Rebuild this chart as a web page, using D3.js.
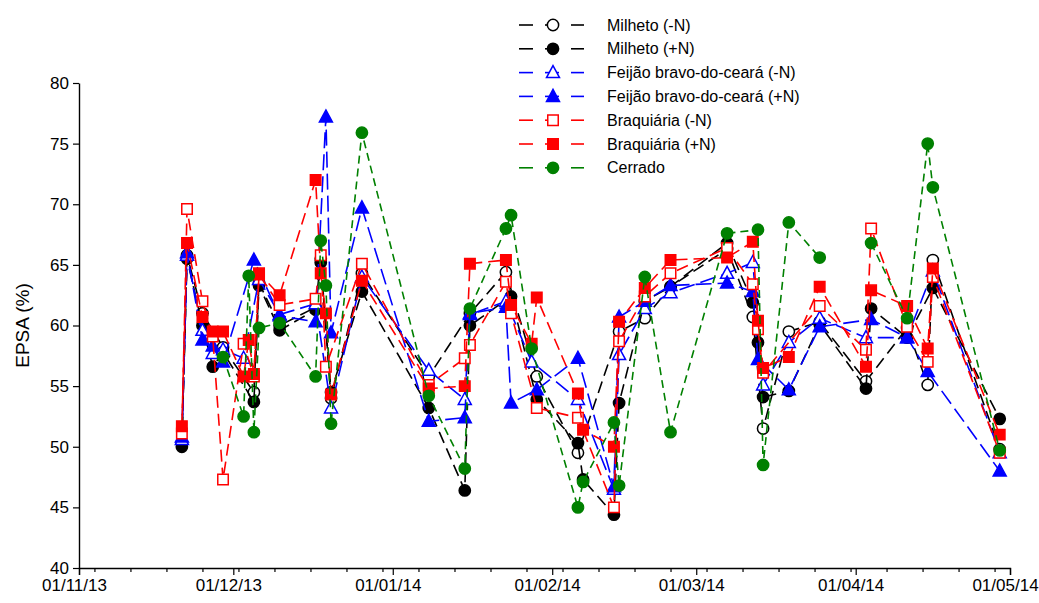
<!DOCTYPE html>
<html>
<head>
<meta charset="utf-8">
<script src="https://cdn.jsdelivr.net/npm/d3@7"></script>
<style>
  body { margin: 0; background: #fff; }
  text { font-family: Arial, "Liberation Sans", sans-serif; }
</style>
</head>
<body>
<svg id="chart"></svg>
<script>
// sampling dates
const dates = [
  "2013-11-21", "2013-11-22", "2013-11-25", "2013-11-27", "2013-11-29",
  "2013-12-03", "2013-12-04", "2013-12-05", "2013-12-06", "2013-12-10",
  "2013-12-17", "2013-12-18", "2013-12-19", "2013-12-20", "2013-12-26",
  "2014-01-08", "2014-01-15", "2014-01-16", "2014-01-23", "2014-01-24",
  "2014-01-28", "2014-01-29", "2014-02-06", "2014-02-07", "2014-02-13",
  "2014-02-14", "2014-02-19", "2014-02-24", "2014-03-07", "2014-03-12",
  "2014-03-13", "2014-03-14", "2014-03-19", "2014-03-25", "2014-04-03",
  "2014-04-04", "2014-04-11", "2014-04-15", "2014-04-16", "2014-04-29"
];

// EPSA (%) per treatment, null = not measured that day
const milhetoMenosN = [50.3, 65.8, 61.0, null, 58.2, null, null, 54.5, 63.5, 60.0,
  61.5, 65.5, null, 54.0, 64.3, 55.8, null, 61.0, 64.4, null,
  null, 55.8, 49.5, null, null, 59.5, 60.6, 63.2, 66.3, 60.7,
  null, 51.5, 59.5, 60.3, 55.4, null, 59.8, 55.1, 65.4, 49.8];
const milhetoMaisN = [50.0, 65.5, 60.0, 56.6, 57.8, null, null, 53.7, 63.3, 59.6,
  61.3, 65.2, null, 54.5, 62.8, 53.2, 46.4, 60.0, null, 62.4,
  null, 53.9, 50.3, 47.3, 44.4, 53.6, 62.0, 63.2, 66.8, 61.9,
  58.6, 54.1, 54.6, 60.1, 54.8, 61.4, 59.0, null, 63.1, 52.3];
const feijaoMenosN = [50.6, 65.8, 59.6, 57.7, 58.0, 57.3, null, null, 63.8, 60.9,
  61.8, null, null, 53.2, 64.0, 56.3, 53.9, 60.9, 62.0, null,
  57.0, null, 53.9, null, 46.5, 57.6, 61.4, 62.7, 64.3, 65.2,
  null, 55.1, 58.6, 60.6, 59.0, null, 59.0, null, 64.5, 49.5];
const feijaoMaisN = [50.8, 66.0, 58.8, 58.3, 57.0, null, null, 65.4, null, 60.8,
  60.3, null, 77.2, 59.4, 69.7, 52.1, 52.4, 61.0, 61.5, 53.6,
  null, 54.7, 57.3, null, 46.7, 60.7, 62.0, 63.3, 63.5, 62.8,
  57.2, null, 54.7, 59.9, null, 60.5, 59.0, 56.2, null, 48.0];
const braqMenosN = [51.1, 69.6, 62.0, 59.1, 47.3, 58.5, null, 55.8, 64.2, 61.7,
  62.2, 65.8, 56.6, null, 65.1, 55.1, 57.3, 58.4, 63.6, 61.0,
  null, 53.2, 52.4, null, 45.0, 58.7, 62.4, 64.3, 66.4, 63.4,
  59.7, 56.1, null, 61.6, 58.0, 68.0, 59.9, 57.0, 64.0, 49.5];
const braqMaisN = [51.7, 66.8, 60.7, 59.5, 59.5, 55.8, 58.8, 56.0, 64.3, 62.5,
  72.0, 64.3, 61.0, 54.3, 63.7, 54.8, 55.0, 65.1, 65.4, 61.7,
  58.5, 62.3, 54.4, 51.4, 50.0, 60.3, 63.1, 65.4, 65.6, 66.9,
  60.4, 56.5, 57.4, 63.2, 56.6, 62.9, 61.6, 58.1, 64.7, 51.0];
const cerrado = [null, null, null, null, 57.4, 52.5, 64.1, 51.2, 59.8, 60.2,
  55.8, 67.0, 63.3, 51.9, 75.9, 54.2, 48.2, 61.4, 68.0, 69.1,
  58.1, null, 45.0, 47.1, 52.0, 46.8, 64.0, 51.2, 67.6, null,
  67.9, 48.5, 68.5, 65.6, null, 66.8, 60.6, 75.0, 71.4, 49.7];
// line is interrupted after these dates
const cerradoGaps = ["2014-03-25"];

const seriesNames = [
  "Milheto (-N)", "Milheto (+N)",
  "Feijão bravo-do-ceará (-N)", "Feijão bravo-do-ceará (+N)",
  "Braquiária (-N)", "Braquiária (+N)", "Cerrado"
];
const yTicks = [40, 45, 50, 55, 60, 65, 70, 75, 80];

const width = 1039, height = 603;
const margin = { top: 83, right: 29, bottom: 35, left: 79 };
const w = width - margin.left - margin.right,
      h = height - margin.top - margin.bottom;

const parse = d3.timeParse("%Y-%m-%d");
const dateObjs = dates.map(parse);

const series = [
  { name: seriesNames[0], values: milhetoMenosN, color: "#000000", shape: "circle", filled: false, dash: "12,6", gaps: [] },
  { name: seriesNames[1], values: milhetoMaisN, color: "#000000", shape: "circle", filled: true, dash: "12,6", gaps: [] },
  { name: seriesNames[2], values: feijaoMenosN, color: "#0000ff", shape: "triangle", filled: false, dash: "16,6", gaps: [] },
  { name: seriesNames[3], values: feijaoMaisN, color: "#0000ff", shape: "triangle", filled: true, dash: "16,6", gaps: [] },
  { name: seriesNames[4], values: braqMenosN, color: "#ff0000", shape: "square", filled: false, dash: "12,6", gaps: [] },
  { name: seriesNames[5], values: braqMaisN, color: "#ff0000", shape: "square", filled: true, dash: "12,6", gaps: [] },
  { name: seriesNames[6], values: cerrado, color: "#008000", shape: "circle", filled: true, dash: "8,5", gaps: cerradoGaps }
];

const svg = d3.select("#chart")
  .attr("width", width)
  .attr("height", height);

const g = svg.append("g")
  .attr("transform", `translate(${margin.left},${margin.top})`);

const x = d3.scaleTime()
  .domain([parse("2013-11-01"), parse("2014-05-01")])
  .range([0, w]);

const y = d3.scaleLinear()
  .domain([40, 80])
  .range([h, 0]);

// axes
const xMajor = d3.axisBottom(x)
  .ticks(d3.timeMonth.every(1))
  .tickFormat(d3.timeFormat("%d/%m/%y"))
  .tickSize(7)
  .tickPadding(4);

const xMinor = d3.axisBottom(x)
  .tickValues(d3.timeMonday.range(x.domain()[0], x.domain()[1]))
  .tickFormat("")
  .tickSize(4);

g.append("g")
  .attr("transform", `translate(0,${h})`)
  .call(xMinor)
  .call(a => a.select(".domain").remove());

const xAxis = g.append("g")
  .attr("transform", `translate(0,${h})`)
  .call(xMajor);

xAxis.selectAll("text")
  .attr("dx", -5)
  .style("font-size", "17px")
  .attr("fill", "#000");

const yAxis = g.append("g")
  .call(d3.axisLeft(y).tickValues(yTicks).tickSize(6).tickPadding(4).tickSizeOuter(0));

yAxis.selectAll("text")
  .style("font-size", "17px")
  .attr("fill", "#000");

[xAxis, yAxis].forEach(a => {
  a.select(".domain").attr("stroke", "#000").attr("stroke-width", 1.4);
});
g.selectAll(".tick line").attr("stroke", "#000").attr("stroke-width", 1.2);

svg.append("text")
  .attr("transform", `translate(29,${margin.top + h / 2}) rotate(-90)`)
  .attr("text-anchor", "middle")
  .style("font-size", "19px")
  .text("EPSA (%)");

// markers
function markerPath(shape) {
  if (shape === "circle") return d3.symbol(d3.symbolCircle, 100)();
  if (shape === "square") return d3.symbol(d3.symbolSquare, 110)();
  return "M0,-7L6.5,5L-6.5,5Z";
}

const line = d3.line()
  .defined(d => d.v != null)
  .x(d => x(d.date))
  .y(d => y(d.v));

series.forEach(s => {
  // drop missing days, then insert breaks where the series is interrupted
  const pts = [];
  dates.forEach((ds, i) => {
    if (s.values[i] == null) return;
    pts.push({ date: dateObjs[i], v: s.values[i] });
    if (s.gaps.includes(ds)) pts.push({ date: dateObjs[i], v: null });
  });

  g.append("path")
    .datum(pts)
    .attr("fill", "none")
    .attr("stroke", s.color)
    .attr("stroke-width", 1.6)
    .attr("stroke-dasharray", s.dash)
    .attr("d", line);

  g.selectAll(null)
    .data(pts.filter(d => d.v != null))
    .enter()
    .append("path")
    .attr("transform", d => `translate(${x(d.date)},${y(d.v)})`)
    .attr("d", markerPath(s.shape))
    .attr("fill", s.filled ? s.color : "#fff")
    .attr("stroke", s.color)
    .attr("stroke-width", 1.5);
});

// legend
const legend = svg.append("g");
series.forEach((s, i) => {
  const ly = 25 + i * 23.8;
  const row = legend.append("g").attr("transform", `translate(0,${ly})`);
  [[519, 533], [545, 559], [571, 584]].forEach(([a, b]) => {
    row.append("line")
      .attr("x1", a).attr("x2", b)
      .attr("y1", 0).attr("y2", 0)
      .attr("stroke", s.color)
      .attr("stroke-width", 1.6);
  });
  row.append("path")
    .attr("transform", "translate(553,0)")
    .attr("d", markerPath(s.shape))
    .attr("fill", s.filled ? s.color : "#fff")
    .attr("stroke", s.color)
    .attr("stroke-width", 1.5);
  row.append("text")
    .attr("x", 607)
    .attr("y", 0)
    .attr("dy", "0.35em")
    .style("font-size", "16px")
    .text(s.name);
});
</script>
</body>
</html>
